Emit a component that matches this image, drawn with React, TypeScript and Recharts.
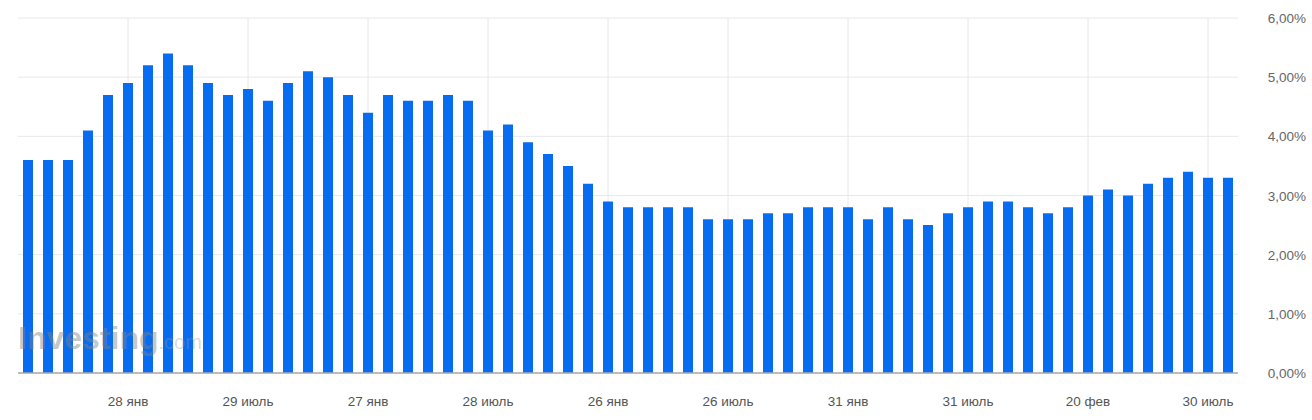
import React from 'react';
import { BarChart, Bar, XAxis, YAxis, CartesianGrid } from 'recharts';

// monthly values, %
const rates = [
  3.6, 3.6, 3.6, 4.1, 4.7, 4.9, 5.2, 5.4, 5.2, 4.9,
  4.7, 4.8, 4.6, 4.9, 5.1, 5.0, 4.7, 4.4, 4.7, 4.6,
  4.6, 4.7, 4.6, 4.1, 4.2, 3.9, 3.7, 3.5, 3.2, 2.9,
  2.8, 2.8, 2.8, 2.8, 2.6, 2.6, 2.6, 2.7, 2.7, 2.8,
  2.8, 2.8, 2.6, 2.8, 2.6, 2.5, 2.7, 2.8, 2.9, 2.9,
  2.8, 2.7, 2.8, 3.0, 3.1, 3.0, 3.2, 3.3, 3.4, 3.3,
  3.3,
];

const tickIndexes = [5, 11, 17, 23, 29, 35, 41, 47, 53, 59];
const tickLabels = ['28 янв', '29 июль', '27 янв', '28 июль', '26 янв', '26 июль', '31 янв', '31 июль', '20 фев', '30 июль'];
const yTicks = [0, 1, 2, 3, 4, 5, 6];

const data = rates.map((v, i) => ({ idx: i, rate: v }));

const FONT = 'Helvetica, Arial, "Liberation Sans", sans-serif';

const XTick = ({ x, y, payload }: any) => {
  const k = tickIndexes.indexOf(payload.value);
  if (k < 0) return <g />;
  return (
    <text x={x} y={y + 25} textAnchor="middle" fontSize={13.5} fill="#555" fontFamily={FONT}>
      {tickLabels[k]}
    </text>
  );
};

const YTick = ({ y, payload }: any) => (
  <text x={1306} y={y + 5} textAnchor="end" fontSize={13.5} fill="#666" fontFamily={FONT}>
    {payload.value.toFixed(2).replace('.', ',') + '%'}
  </text>
);

// vertical grid lines only under the labelled months, placed via the x scale
const verticalLines = ({ xAxis }: any) => {
  const s = xAxis.scale;
  const map = typeof s === 'function' ? s : (v: any) => s.map(v);
  const bw = typeof s.bandwidth === 'function' ? s.bandwidth() : 0;
  return tickIndexes.map((i) => map(i) + bw / 2);
};

export default function App() {
  return (
    <div style={{ position: 'absolute', left: 0, top: 0, width: 1312, height: 420, background: '#fff' }}>
      <BarChart
        width={1312}
        height={420}
        data={data}
        margin={{ top: 18, right: 0, bottom: 0, left: 18 }}
        barSize={10}
      >
        <CartesianGrid stroke="#e8e8e8" strokeWidth={1} verticalCoordinatesGenerator={verticalLines} />
        <XAxis
          dataKey="idx"
          interval={0}
          tick={<XTick />}
          tickLine={false}
          axisLine={{ stroke: '#aaa', strokeWidth: 1.5 }}
          height={47}
        />
        <YAxis
          orientation="right"
          domain={[0, 6]}
          ticks={yTicks}
          tick={<YTick />}
          tickLine={false}
          axisLine={false}
          width={74}
        />
        <Bar dataKey="rate" fill="#086cf0" isAnimationActive={false} />
      </BarChart>
      <div
        style={{
          position: 'absolute',
          left: 18,
          top: 320,
          fontFamily: FONT,
          color: 'rgba(130,130,130,0.45)',
          whiteSpace: 'nowrap',
          pointerEvents: 'none',
        }}
      >
        <span style={{ fontSize: 32, fontWeight: 700 }}>Investing</span>
        <span style={{ fontSize: 20, color: 'rgba(150,150,150,0.35)' }}>.com</span>
      </div>
    </div>
  );
}
